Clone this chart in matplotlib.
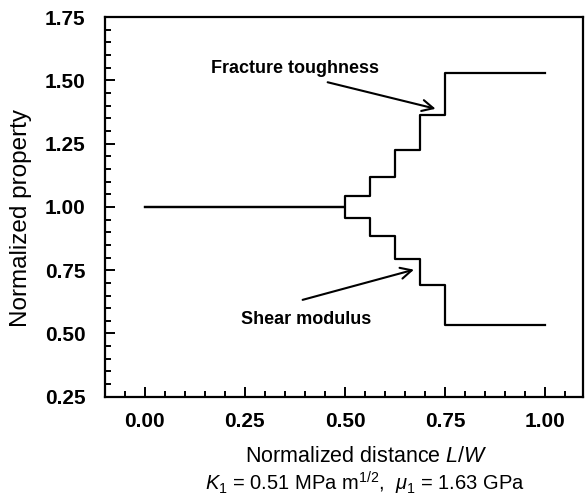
import matplotlib
matplotlib.use("Agg")
import matplotlib.pyplot as plt
from matplotlib.ticker import MultipleLocator

plt.rcParams['font.family'] = ['Liberation Sans', 'DejaVu Sans']
plt.rcParams['mathtext.fontset'] = 'custom'
plt.rcParams['mathtext.rm'] = 'Liberation Sans'
plt.rcParams['mathtext.it'] = 'Liberation Sans:italic'
plt.rcParams['mathtext.bf'] = 'Liberation Sans:bold'

# step edges (normalized distance) and levels of each property
distance = [0.0, 0.5, 0.5625, 0.625, 0.6875, 0.75, 1.0]
toughness = [1.0, 1.045, 1.12, 1.225, 1.365, 1.53, 1.53]
shear = [1.0, 0.955, 0.885, 0.795, 0.69, 0.535, 0.535]

fig = plt.figure(figsize=(5.85, 5.01), dpi=100)
ax = fig.add_axes([0.179, 0.208, 0.818, 0.758])

ax.step(distance, toughness, where='post', color='black', lw=1.6)
ax.step(distance, shear, where='post', color='black', lw=1.6)

ax.set_xlim(-0.1, 1.095)
ax.set_ylim(0.25, 1.75)
ax.xaxis.set_major_locator(MultipleLocator(0.25))
ax.xaxis.set_minor_locator(MultipleLocator(0.05))
ax.yaxis.set_major_locator(MultipleLocator(0.25))
ax.yaxis.set_minor_locator(MultipleLocator(0.05))
ax.xaxis.set_major_formatter(plt.FormatStrFormatter('%.2f'))
ax.yaxis.set_major_formatter(plt.FormatStrFormatter('%.2f'))
ax.tick_params(which='both', direction='in', width=1.4, labelsize=15,
               top=False, right=False)
ax.tick_params(which='major', length=7)
ax.tick_params(which='minor', length=4)
ax.tick_params(axis='x', which='major', pad=11)
ax.tick_params(axis='y', which='major', pad=14)
for lab in ax.get_xticklabels() + ax.get_yticklabels():
    lab.set_fontweight('bold')
for sp in ax.spines.values():
    sp.set_linewidth(1.6)

ax.set_xlabel('Normalized distance $L/W$', fontsize=15.5)
ax.xaxis.set_label_coords(0.546, -0.13)
ax.set_ylabel('Normalized property', fontsize=17.5)
ax.yaxis.set_label_coords(-0.152, 0.47)
fig.text(0.624, 0.036, r'$K_1$ = 0.51 MPa m$^{1/2}$,  $\mu_1$ = 1.63 GPa',
         fontsize=14.5, ha='center', va='center')

arrow = dict(arrowstyle='->', color='black', lw=1.5, mutation_scale=20)
ax.annotate('', xy=(0.733, 1.385), xytext=(0.45, 1.495), arrowprops=arrow)
ax.text(0.375, 1.545, 'Fracture toughness', fontsize=13, fontweight='bold',
        ha='center', va='center')
ax.annotate('', xy=(0.679, 0.755), xytext=(0.3875, 0.63), arrowprops=arrow)
ax.text(0.404, 0.557, 'Shear modulus', fontsize=13, fontweight='bold',
        ha='center', va='center')

fig.savefig('out.png', dpi=100)
